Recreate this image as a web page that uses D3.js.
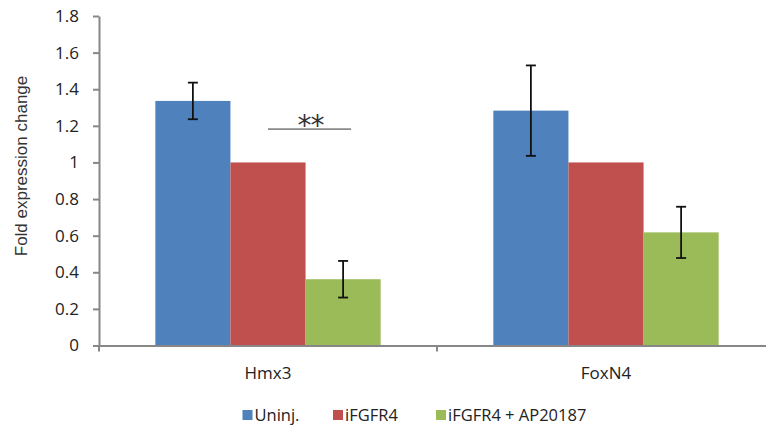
<!DOCTYPE html>
<html>
<head>
<meta charset="utf-8">
<script src="https://cdn.jsdelivr.net/npm/d3@7"></script>
<style>
  body { margin: 0; background: #fff; }
  svg { display: block; font-family: "Open Sans", "Liberation Sans", sans-serif; }
</style>
</head>
<body>
<svg id="chart" width="766" height="427"></svg>
<script>
// Data
const genes = ["Hmx3", "FoxN4"];
const groups = ["Uninj.", "iFGFR4", "iFGFR4 + AP20187"];
const colors = ["#4F81BD", "#C0504D", "#9BBB59"];
const uninj = [1.336, 1.283];
const ifgfr4 = [1.0, 1.0];
const ifgfr4AP = [0.362, 0.618];
const errUninj = [0.10, 0.247];
const errIfgfr4 = [0, 0];
const errIfgfr4AP = [0.10, 0.14];
const yTicks = [0, 0.2, 0.4, 0.6, 0.8, 1, 1.2, 1.4, 1.6, 1.8];

const seriesValues = [uninj, ifgfr4, ifgfr4AP];
const seriesErrors = [errUninj, errIfgfr4, errIfgfr4AP];

const svg = d3.select("#chart");
const axisColor = "#878787";

const x0 = d3.scaleBand().domain(genes).range([99, 775]).paddingInner(0).paddingOuter(0);
const x1 = d3.scaleBand().domain(groups).range([0, x0.bandwidth()]).paddingInner(0).paddingOuter(0.75);
const y = d3.scaleLinear().domain([0, 1.8]).range([345.5, 16]);

// Bars
const bars = [];
genes.forEach((g, gi) => {
  groups.forEach((s, si) => {
    bars.push({ gene: g, group: s, si, v: seriesValues[si][gi], e: seriesErrors[si][gi] });
  });
});

svg.append("g").selectAll("rect").data(bars).join("rect")
  .attr("x", d => x0(d.gene) + x1(d.group))
  .attr("y", d => y(d.v))
  .attr("width", x1.bandwidth())
  .attr("height", d => y(0) - y(d.v))
  .attr("fill", d => colors[d.si]);

// Error bars
const eg = svg.append("g").attr("stroke", "#111").attr("stroke-width", 1.8);
bars.filter(d => d.e > 0).forEach(d => {
  const cx = x0(d.gene) + x1(d.group) + x1.bandwidth() / 2;
  eg.append("line").attr("x1", cx).attr("x2", cx).attr("y1", y(d.v + d.e)).attr("y2", y(d.v - d.e));
  eg.append("line").attr("x1", cx - 5).attr("x2", cx + 5).attr("y1", y(d.v + d.e)).attr("y2", y(d.v + d.e));
  eg.append("line").attr("x1", cx - 5).attr("x2", cx + 5).attr("y1", y(d.v - d.e)).attr("y2", y(d.v - d.e));
});

// Y axis
const yAxis = d3.axisLeft(y).tickValues(yTicks).tickSize(6).tickSizeOuter(0)
  .tickFormat(d => d3.format("~g")(d));
const gy = svg.append("g").attr("transform", "translate(99,0)").call(yAxis);
gy.attr("font-family", null).attr("font-size", null);
gy.select(".domain").attr("stroke", axisColor).attr("stroke-width", 2);
gy.selectAll(".tick line").attr("stroke", axisColor).attr("stroke-width", 2);
gy.selectAll(".tick text").attr("font-size", 17).attr("fill", "#222").attr("x", -20);

// X axis
const xAxis = d3.axisBottom(x0).tickSize(0).tickSizeOuter(0);
const gx = svg.append("g").attr("transform", `translate(0,${y(0)})`).call(xAxis);
gx.attr("font-family", null).attr("font-size", null);
gx.select(".domain").attr("stroke", axisColor).attr("stroke-width", 2);
gx.selectAll(".tick text").attr("font-size", 17).attr("fill", "#222").attr("y", 33.5).attr("dy", 0);
// category boundary ticks
const bounds = [x0.range()[0], x0(genes[1])];
gx.selectAll(".bound").data(bounds).join("line")
  .attr("x1", d => d).attr("x2", d => d).attr("y1", 0).attr("y2", 6)
  .attr("stroke", axisColor).attr("stroke-width", 2);

// Axis title
svg.append("text")
  .attr("transform", "translate(27,166) rotate(-90)")
  .attr("text-anchor", "middle").attr("font-size", 17).attr("fill", "#333")
  .attr("font-family", "'Liberation Sans', Arial, sans-serif")
  .text("Fold expression change");

// Significance bar between iFGFR4 and iFGFR4 + AP20187 for Hmx3
const sx1 = x0(genes[0]) + x1(groups[1]) + x1.bandwidth() / 2;
const sx2 = x0(genes[0]) + x1(groups[2]) + x1.bandwidth() / 2 + 8;
const sy = y(1.182);
svg.append("line").attr("x1", sx1).attr("x2", sx2).attr("y1", sy).attr("y2", sy)
  .attr("stroke", "#8a8a8a").attr("stroke-width", 1.6);
svg.append("text").attr("x", (sx1 + sx2) / 2 + 1).attr("y", sy + 6)
  .attr("text-anchor", "middle").attr("font-size", 28).attr("fill", "#333")
  .attr("letter-spacing", -1)
  .attr("font-family", "'DejaVu Sans', sans-serif")
  .text("**");

// Legend
const legendItems = [
  { label: groups[0], color: colors[0], x: 242.5 },
  { label: groups[1], color: colors[1], x: 333 },
  { label: groups[2], color: colors[2], x: 436 }
];
const lg = svg.append("g");
legendItems.forEach(it => {
  lg.append("rect").attr("x", it.x).attr("y", 410).attr("width", 10).attr("height", 10).attr("fill", it.color);
  lg.append("text").attr("x", it.x + 12).attr("y", 420.5).attr("font-size", 16.5).attr("fill", "#222")
    .text(it.label);
});
</script>
</body>
</html>
